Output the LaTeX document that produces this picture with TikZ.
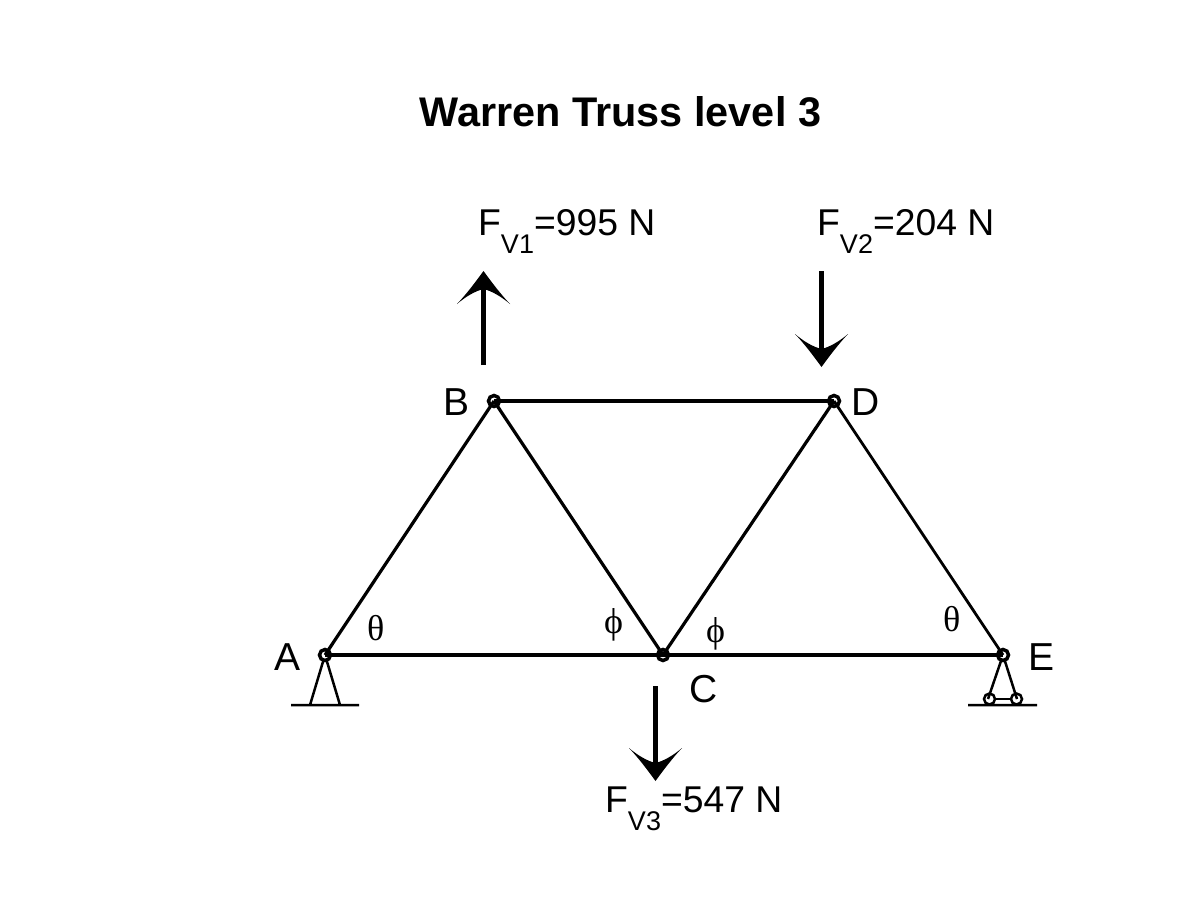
\documentclass[tikz,border=0pt]{standalone}
\usepackage{fontspec}
\setmainfont{Liberation Sans}
\newfontfamily\serifgreek{Liberation Serif}
\newcommand{\forcetext}[3]{#1\raisebox{-18pt}{\fontsize{27}{27}\selectfont #2}#3}
\newcommand{\solidhead}[2]{\fill[black,shift={(#1)},yscale=#2] (0,0) .. controls (8,11) and (17,23) .. (26.5,33) .. controls (17,25) and (8,20) .. (0,18) .. controls (-8,20) and (-17,25) .. (-26.5,33) .. controls (-17,23) and (-8,11) .. (0,0) -- cycle;}
\tikzset{
  member/.style={draw=black,line width=3.2pt},
  chord/.style={draw=black,line width=3.5pt},
  thin member/.style={draw=black,line width=2.8pt},
  pin/.style={circle,draw=black,fill=white,line width=3.5pt,inner sep=0pt,minimum size=11pt},
  roller/.style={circle,draw=black,line width=2.5pt,inner sep=0pt,minimum size=11pt},
  support/.style={draw=black,line width=2.5pt},
  force/.style={draw=black,line width=4.5pt},
  lab/.style={font=\fontsize{39}{39}\selectfont,inner sep=0pt,anchor=base west},
  flab/.style={font=\fontsize{37.3}{37.3}\selectfont,inner sep=0pt,anchor=base west},
  greek/.style={font=\serifgreek\fontsize{36}{36}\selectfont,inner sep=0pt,anchor=base west},
}
\begin{document}
\begin{tikzpicture}[x=1pt,y=-1pt]
\useasboundingbox (0,0) rectangle (1201,901);
\fill[white] (0,0) rectangle (1201,901);
\node[font=\bfseries\fontsize{41.4}{41.4}\selectfont,inner sep=0pt,anchor=base] (title) at (620.5,127) {Warren Truss level 3};
% joints
\coordinate (A) at (325,655);
\coordinate (B) at (494,401);
\coordinate (C) at (663,655);
\coordinate (D) at (834,401);
\coordinate (E) at (1003,655);
% supports
\coordinate (A1) at (310,705);\coordinate (A2) at (340,705);
\coordinate (G1) at (291,705);\coordinate (G2) at (359,705);
\coordinate (E1) at (988,699);\coordinate (E2) at (1017,699);
\coordinate (H1) at (968,705);\coordinate (H2) at (1037,705);
\draw[support] (A) -- (A1) (A) -- (A2) (G1) -- (G2);
\draw[support] (E) -- (E1) (E) -- (E2) (H1) -- (H2);
\node[roller] (r1) at (989.5,699) {};
\node[roller] (r2) at (1016.5,699) {};
\draw[support] (r1) -- (r2);
% pins under the members
\node[pin] (pA) at (A) {};
\node[pin] (pB) at (B) {};
\node[pin] (pC) at (C) {};
\node[pin] (pD) at (D) {};
\node[pin] (pE) at (E) {};
% members
\draw[member] (A) -- (B);
\draw[member] (B) -- (C);
\draw[member] (C) -- (D);
\draw[thin member] (D) -- (E);
\draw[chord] (A) -- (C);
\draw[chord] (C) -- (E);
\draw[chord] (B) -- (D);
% forces
\coordinate (f1a) at (483.5,365);\coordinate (f1b) at (483.5,282);\coordinate (f1t) at (483.5,271);
\coordinate (f2a) at (821.5,271);\coordinate (f2b) at (821.5,354);\coordinate (f2t) at (821.5,367);
\coordinate (f3a) at (655.5,686);\coordinate (f3b) at (655.5,769);\coordinate (f3t) at (655.5,781);
\draw[force] (f1a) -- (f1b);
\draw[force] (f2a) -- (f2b);
\draw[force] (f3a) -- (f3b);
\solidhead{f1t}{1}
\solidhead{f2t}{-1}
\solidhead{f3t}{-1}
% labels
\node[lab] (lA) at (274,670) {A};
\node[lab] (lB) at (443,415) {B};
\node[lab] (lC) at (689,702) {C};
\node[lab] (lD) at (851,415) {D};
\node[lab] (lE) at (1028,670) {E};
\node[greek] (t1) at (367,640) {θ};
\node[greek] (t2) at (943,631) {θ};
\node[greek] (p1) at (604,633) {ϕ};
\node[greek] (p2) at (706,642) {ϕ};
\node[flab] (F1) at (478,236) {\forcetext{F}{V1}{=995 N}};
\node[flab] (F2) at (817,236) {\forcetext{F}{V2}{=204 N}};
\node[flab] (F3) at (605,812) {\forcetext{F}{V3}{=547 N}};
\end{tikzpicture}
\end{document}
